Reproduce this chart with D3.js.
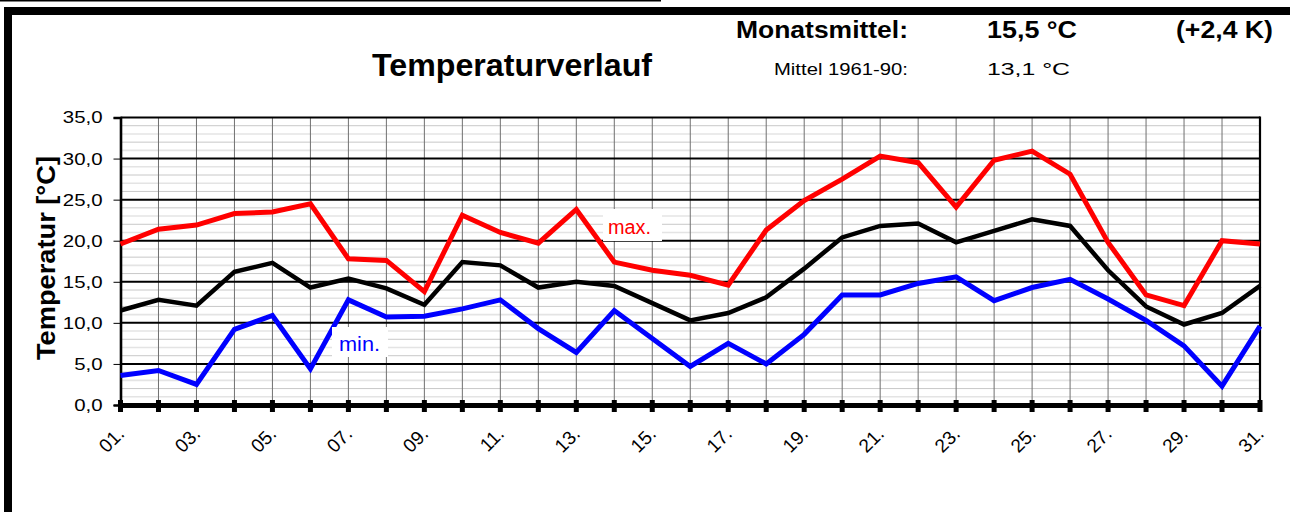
<!DOCTYPE html>
<html><head><meta charset="utf-8">
<script src="https://cdnjs.cloudflare.com/ajax/libs/d3/7.8.5/d3.min.js"></script>
<style>body{margin:0;background:#fff}svg{display:block}text{font-family:"Liberation Sans",Arial,sans-serif}</style>
</head><body><svg id="c" width="1290" height="512"></svg>
<script>
const days = d3.range(1, 32);
const dayLabels = days.map(d => (d < 10 ? "0" + d : "" + d) + ".");
const tMax = [19.6,21.4,21.9,23.3,23.5,24.5,17.8,17.6,13.8,23.1,21.0,19.7,23.8,17.4,16.4,15.8,14.6,21.3,24.9,27.5,30.3,29.5,24.1,29.8,30.9,28.1,19.8,13.4,12.1,20.0,19.6];
const tMean = [11.5,12.8,12.1,16.2,17.3,14.3,15.4,14.2,12.2,17.4,17.0,14.3,15.0,14.5,12.4,10.3,11.2,13.1,16.6,20.4,21.8,22.1,19.8,21.2,22.6,21.8,16.4,12.0,9.8,11.2,14.5];
const tMin = [3.6,4.2,2.5,9.2,10.9,4.4,12.8,10.7,10.8,11.7,12.8,9.3,6.4,11.5,8.1,4.7,7.5,5.0,8.6,13.4,13.4,14.8,15.6,12.7,14.3,15.3,12.9,10.3,7.2,2.3,9.6];
const yTicks = [0,5,10,15,20,25,30,35];
const yTickLabels = ["0,0","5,0","10,0","15,0","20,0","25,0","30,0","35,0"];

const svg = d3.select("#c");
const x = d3.scaleLinear().domain([1, 31]).range([120.5, 1260]);
const y = d3.scaleLinear().domain([0, 35]).range([405, 117.5]);

function fit(sel, w) {
  sel.each(function(){
    this.setAttribute("textLength", w);
    this.setAttribute("lengthAdjust", "spacingAndGlyphs");
  });
  return sel;
}

// outer frame
svg.append("line").attr("x1",0).attr("x2",661).attr("y1",0.7).attr("y2",0.7).attr("stroke","#000").attr("stroke-width",1.5);
svg.append("rect").attr("x",4).attr("y",7).attr("width",1286).attr("height",8).attr("fill","#000");
svg.append("rect").attr("x",4).attr("y",7).attr("width",8).attr("height",505).attr("fill","#000");

// minor grid
const minor = d3.range(1, 35).filter(v => v % 5 !== 0);
svg.append("g").selectAll("line").data(minor).join("line")
  .attr("x1", x(1)).attr("x2", x(31)).attr("y1", d => y(d)).attr("y2", d => y(d))
  .attr("stroke", d => d % 2 === 0 ? "#c8c8c8" : "#e4e4e4").attr("stroke-width", d => d % 2 === 0 ? 1 : 1.6);
// vertical grid
svg.append("g").selectAll("line").data(days.slice(1, 30)).join("line")
  .attr("x1", d => x(d)).attr("x2", d => x(d)).attr("y1", y(35)).attr("y2", y(0))
  .attr("stroke", "#707070").attr("stroke-width", 1);
// major grid
svg.append("g").selectAll("line").data(yTicks.slice(1)).join("line")
  .attr("x1", x(1)).attr("x2", x(31)).attr("y1", d => y(d)).attr("y2", d => y(d))
  .attr("stroke", "#000").attr("stroke-width", 2);
// right frame
svg.append("line").attr("x1", x(31)).attr("x2", x(31)).attr("y1", y(35)-1).attr("y2", y(0)).attr("stroke","#000").attr("stroke-width",2.2);

// y axis
const yAxis = d3.axisLeft(y).tickValues(yTicks).tickFormat((d,i) => yTickLabels[i]).tickSize(7).tickPadding(11);
const ga = svg.append("g").attr("transform", `translate(${x(1)},0)`).call(yAxis);
ga.select(".domain").attr("stroke-width", 2.6);
ga.selectAll(".tick line").attr("stroke-width", 1);
ga.selectAll(".tick text").attr("font-size", 17).attr("font-family", '"Liberation Sans",Arial,sans-serif').attr("fill","#000")
  .each(function(){ const w = this.getComputedTextLength(); this.setAttribute("textLength", w*1.2); this.setAttribute("lengthAdjust","spacingAndGlyphs"); });

// x axis
svg.append("line").attr("x1", x(1)-1).attr("x2", x(31)+1).attr("y1", 405.5).attr("y2", 405.5).attr("stroke","#000").attr("stroke-width",5);
svg.append("g").selectAll("rect").data(days).join("rect")
  .attr("x", d => x(d)-2.5).attr("y", 400).attr("width", 5).attr("height", 12).attr("fill","#000");
svg.append("g").selectAll("text").data(days.filter(d => d % 2 === 1)).join("text")
  .attr("transform", d => `translate(${x(d)+5},435) rotate(-45)`)
  .attr("text-anchor","end").attr("font-size",19).text(d => dayLabels[d-1]);

// lines
const line = d3.line().x((d,i) => x(days[i])).y(d => y(d));
svg.append("path").datum(tMax).attr("d", line).attr("fill","none").attr("stroke","#ff0000").attr("stroke-width",5).attr("stroke-linejoin","miter");
svg.append("path").datum(tMean).attr("d", line).attr("fill","none").attr("stroke","#000").attr("stroke-width",4.5);
svg.append("path").datum(tMin).attr("d", line).attr("fill","none").attr("stroke","#0000ff").attr("stroke-width",5);

// series labels
svg.append("rect").attr("x",603).attr("y",209).attr("width",59).attr("height",32).attr("fill","#fff");
fit(svg.append("text").attr("x",608).attr("y",234).attr("font-size",20).attr("fill","#ff0000").text("max."), 43);
svg.append("rect").attr("x",332).attr("y",327).attr("width",56).attr("height",30).attr("fill","#fff");
fit(svg.append("text").attr("x",339).attr("y",351).attr("font-size",20).attr("fill","#0000ff").text("min."), 41);

// titles
fit(svg.append("text").attr("x",372).attr("y",76).attr("font-size",31).attr("font-weight","bold").text("Temperaturverlauf"), 280);
fit(svg.append("text").attr("x",736).attr("y",38).attr("font-size",24).attr("font-weight","bold").text("Monatsmittel:"), 172);
fit(svg.append("text").attr("x",987).attr("y",38).attr("font-size",24).attr("font-weight","bold").text("15,5 °C"), 90);
fit(svg.append("text").attr("x",1176).attr("y",38).attr("font-size",24).attr("font-weight","bold").text("(+2,4 K)"), 97);
fit(svg.append("text").attr("x",774).attr("y",75).attr("font-size",16).text("Mittel 1961-90:"), 134);
fit(svg.append("text").attr("x",987).attr("y",75).attr("font-size",16).text("13,1 °C"), 83);

// y title
fit(svg.append("text").attr("transform","translate(55,258) rotate(-90)").attr("text-anchor","middle")
  .attr("font-size",25).attr("font-weight","bold").text("Temperatur [°C]"), 204);
</script></body></html>
